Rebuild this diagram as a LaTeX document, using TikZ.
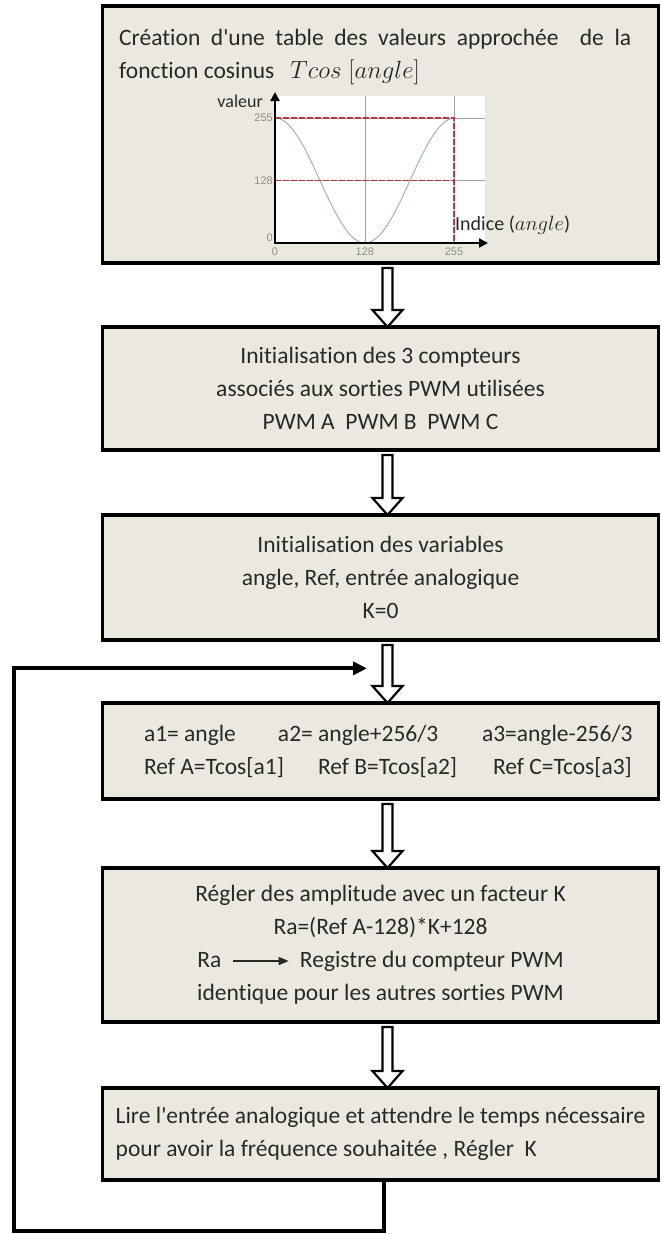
\documentclass[tikz,border=0pt]{standalone}
\usepackage{fontspec}
\setmainfont{Carlito}[Ligatures={NoCommon}]
\newfontfamily\plotfont{Liberation Sans}
\usetikzlibrary{arrows.meta,positioning,calc}

\definecolor{boxfill}{RGB}{235,233,223}
\definecolor{curveblue}{RGB}{150,172,196}
\definecolor{dashred}{RGB}{185,55,65}
\definecolor{tickgray}{RGB}{140,140,140}
\definecolor{inkgray}{RGB}{40,40,40}

\tikzset{
    box/.style={rectangle,draw,line width=3.8pt,fill=boxfill,minimum width=556pt,
        outer sep=0pt,inner sep=0pt,align=center,text=inkgray,font=\fontsize{23.5}{33}\selectfont},
    hollow/.style={draw,line width=2.2pt,fill=white,
        to path={let \p1=(\tikztostart),\p2=(\tikztotarget) in
            (\x1-5pt,\y1) -- (\x1+5pt,\y1) -- (\x1+5pt,\y2+17pt) -- (\x1+15pt,\y2+17pt)
            -- (\x1,\y2) -- (\x1-15pt,\y2+17pt) -- (\x1-5pt,\y2+17pt) -- cycle}},
    loopline/.style={line width=4pt,-{Triangle[length=14pt,width=13pt]}},
    tick/.style={font=\plotfont\fontsize{11}{11}\selectfont,text=tickgray,inner sep=1pt},
    boxtext/.style={font=\fontsize{23.5}{33}\selectfont,text=inkgray,inner sep=0pt},
}

\begin{document}
\begin{tikzpicture}[node distance=65pt]
    \useasboundingbox (0,0) rectangle (661pt,-1234pt);

    % table du cosinus
    \node[box, minimum height=257pt] (b1) at (380.5pt,-134.5pt) {};
    \node[boxtext, anchor=base west] (t1) at (119pt,-45pt)
        {\makebox[512pt][s]{Création d\textquotesingle une table des valeurs approchée\ \ de la}};
    \node[boxtext, anchor=base west] (t2) at (119pt,-78pt)
        {\makebox[171pt][l]{fonction cosinus}$Tcos\;[angle]$};

    \begin{scope}[shift={(275pt,-243pt)}]
        \fill[white] (0,0) rectangle (210pt,147pt);
        \draw[gray!75, line width=0.6pt] (0,125pt) -- (210pt,125pt) (0,62.7pt) -- (210pt,62.7pt)
            (89.9pt,0) -- (89.9pt,147pt) (179pt,0) -- (179pt,147pt);
        \draw[curveblue, line width=0.9pt, variable=\t, domain=0:179, samples=90]
            plot ({\t*1pt},{62.5pt+62.5pt*cos(2*\t)});
        \draw[dashred, dash pattern=on 6pt off 2pt, line width=1.2pt] (0,125pt) -- (179pt,125pt) -- (179pt,0)
            (0,62.7pt) -- (179pt,62.7pt);
        \draw[line width=2.6pt, {Triangle[length=9pt,width=9pt]}-{Triangle[length=9pt,width=9pt]}]
            (0,151pt) -- (0,0) -- (213pt,0);
        \node[tick, anchor=east] (y255) at (-1pt,125pt) {255};
        \node[tick, anchor=east] (y128) at (-1pt,62.7pt) {128};
        \node[tick, anchor=south east] (y0) at (-1pt,0) {0};
        \node[tick, anchor=north] (x0) at (0,-4pt) {0};
        \node[tick, anchor=north] (x128) at (89.9pt,-4pt) {128};
        \node[tick, anchor=north] (x255) at (179pt,-4pt) {255};
        \node[boxtext, font=\fontsize{18}{18}\selectfont, anchor=base east] (valeur) at (-12pt,136pt) {valeur};
        \node[boxtext, font=\fontsize{20}{20}\selectfont, anchor=base west] (indice) at (180pt,13pt)
            {Indice ($angle$)};
    \end{scope}

    % initialisations
    \node[box, minimum height=123pt, below=64pt of b1] (b2)
        {Initialisation des 3 compteurs\\associés aux sorties PWM utilisées\\PWM A\ \ PWM B\ \ PWM C};
    \node[box, minimum height=125pt, below=of b2] (b3)
        {Initialisation des variables\\angle, Ref, entrée analogique\\K=0};

    % boucle
    \node[box, minimum height=96pt, below=63pt of b3] (b4)
        {\hspace*{12pt}\makebox[134pt][l]{a1= angle}\makebox[204pt][l]{a2= angle+256/3}\makebox[147pt][l]{a3=angle-256/3}\\
         \hspace*{12pt}\makebox[174pt][l]{Ref A=Tcos[a1]}\makebox[175pt][l]{Ref B=Tcos[a2]}\makebox[136pt][l]{Ref C=Tcos[a3]}};
    \node[box, minimum height=154pt, below=69pt of b4] (b5)
        {Régler des amplitude avec un facteur K\\Ra=(Ref A-128)*K+128\\
         Ra\ \ \tikz[baseline=-0.6ex]\draw[line width=1.3pt,-{Triangle[length=10pt,width=8pt]}] (0,0) -- (56pt,0);\ \ Registre du compteur PWM\\
         identique pour les autres sorties PWM};
    \node[box, minimum height=92pt, below=66pt of b5, align=left] (b6)
        {Lire l\textquotesingle entrée analogique et attendre le temps nécessaire\\pour avoir la fréquence souhaitée , Régler\ \ K};

    \draw[hollow] ([xshift=7pt,yshift=-5pt]b1.south) to ([xshift=7pt]b2.north);
    \draw[hollow] ([xshift=7pt,yshift=-5pt]b2.south) to ([xshift=7pt]b3.north);
    \draw[hollow] ([xshift=7pt,yshift=-5pt]b3.south) to ([xshift=7pt]b4.north);
    \draw[hollow] ([xshift=7pt,yshift=-5pt]b4.south) to ([xshift=7pt]b5.north);
    \draw[hollow] ([xshift=7pt,yshift=-5pt]b5.south) to ([xshift=7pt]b6.north);

    \coordinate (loopin) at ($(b3.south)!0.45!(b4.north)+(-13.5pt,0)$);
    \coordinate (loopcorner) at (14pt,-1231pt);
    \draw[loopline] ([xshift=3.5pt]b6.south) |- (loopcorner) |- (loopin);
\end{tikzpicture}
\end{document}
